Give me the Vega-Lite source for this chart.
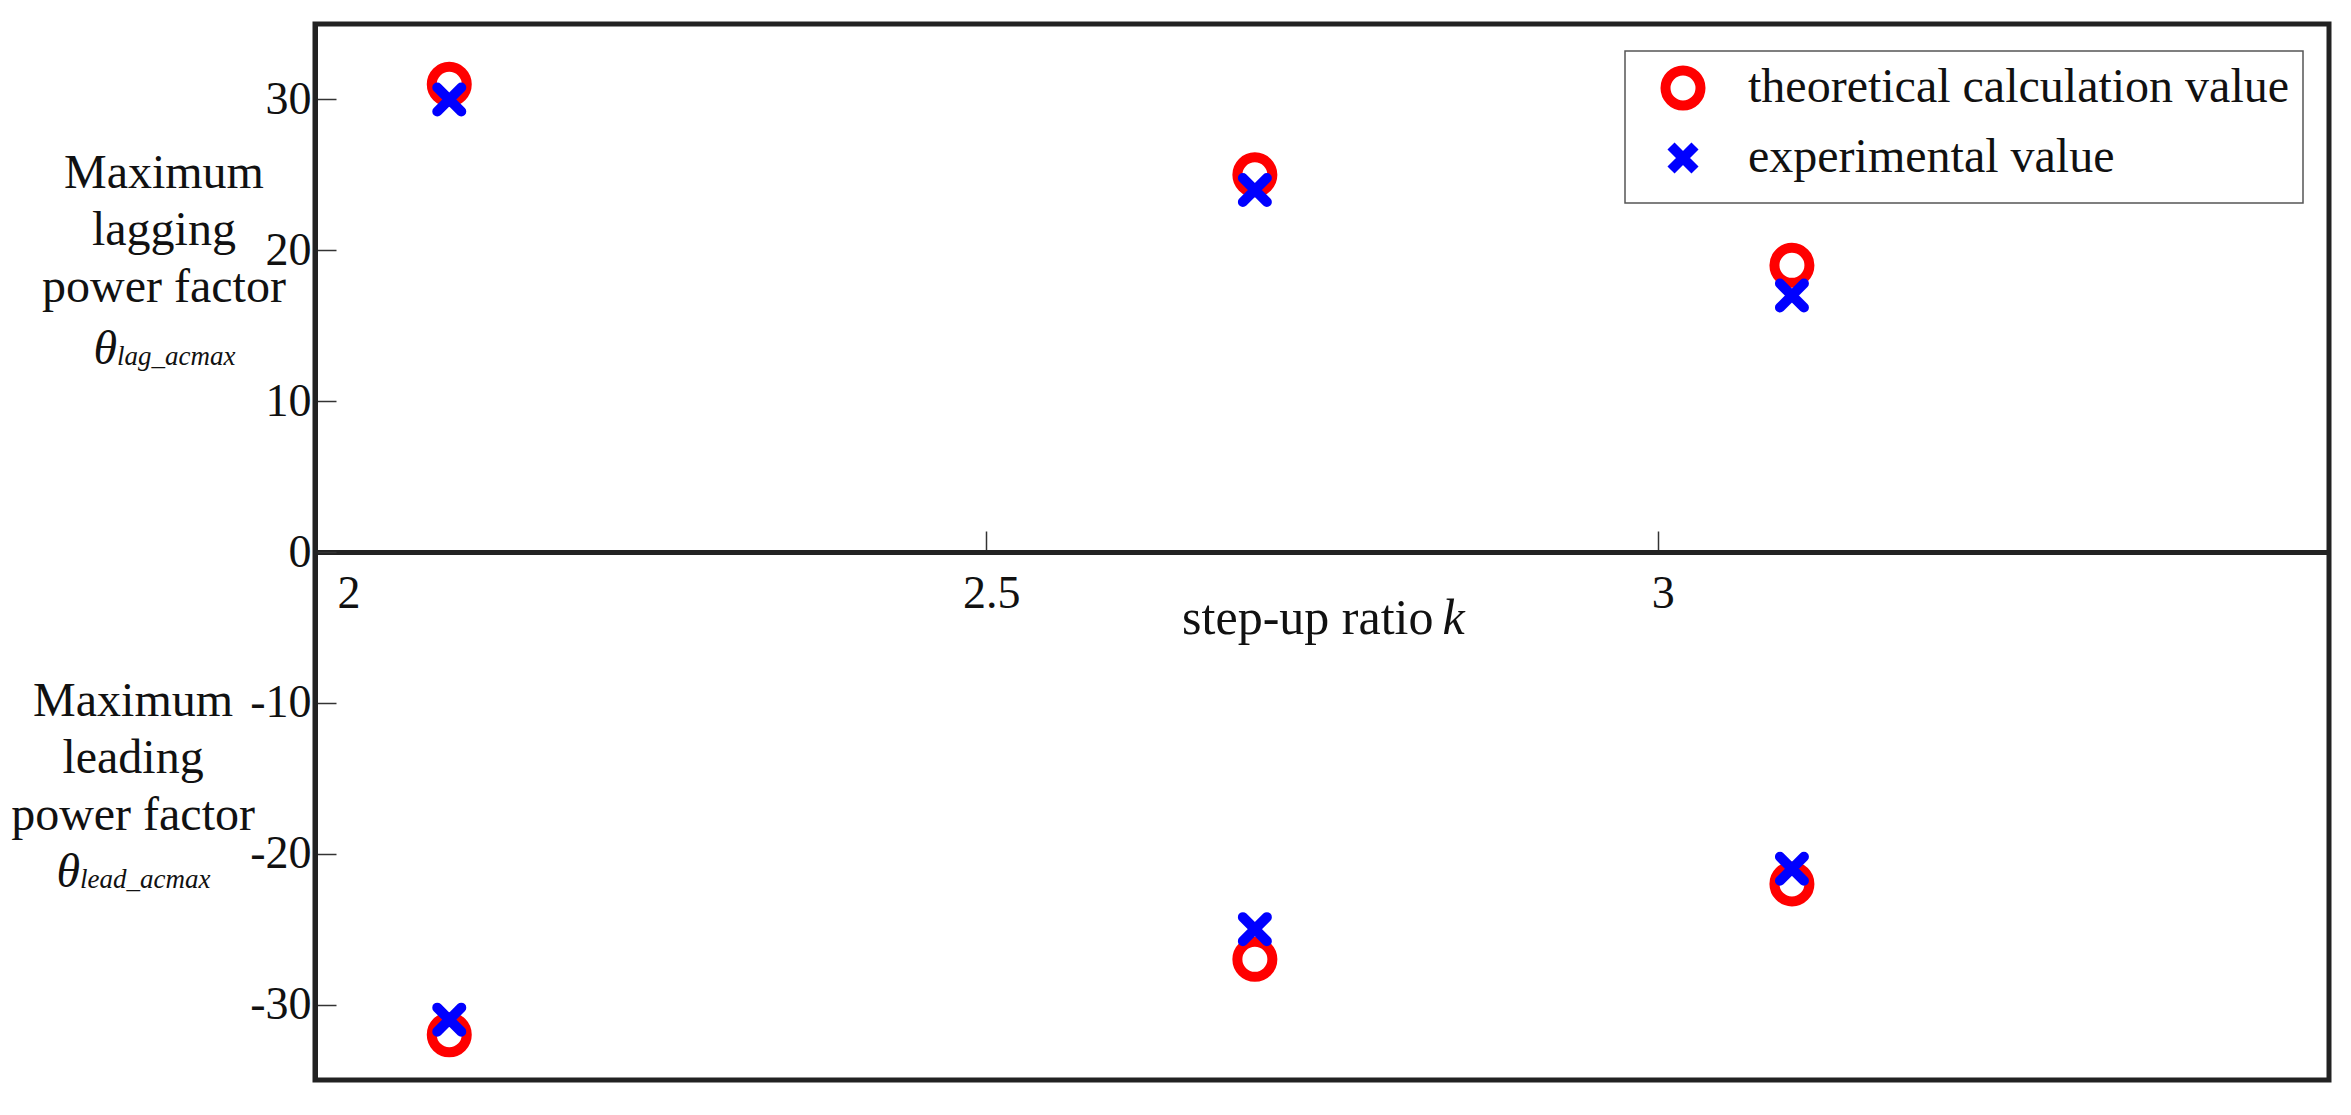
{
  "$schema": "https://vega.github.io/schema/vega-lite/v6.json",
  "width": 2014,
  "height": 1056,
  "autosize": {"type": "none"},
  "padding": {"left": 315, "top": 24, "right": 22, "bottom": 35},
  "background": "white",
  "config": {
    "font": "Liberation Serif",
    "view": {"stroke": "#222", "strokeWidth": 5},
    "text": {"font": "Liberation Serif", "color": "#111"},
    "legend": {
      "strokeColor": "#555", "strokeWidth": 1.5, "fillColor": "white",
      "padding": 13, "symbolOffset": 21, "labelOffset": 41, "rowPadding": 0,
      "labelFont": "Liberation Serif", "labelFontSize": 48, "labelColor": "#111",
      "labelLimit": 2000, "symbolStrokeWidth": 10
    }
  },
  "layer": [
    {
      "data": {"values": [
        {"k": 2.1, "value": 31, "series": "theoretical calculation value"},
        {"k": 2.7, "value": 25, "series": "theoretical calculation value"},
        {"k": 3.1, "value": 19, "series": "theoretical calculation value"},
        {"k": 2.1, "value": -32, "series": "theoretical calculation value"},
        {"k": 2.7, "value": -27, "series": "theoretical calculation value"},
        {"k": 3.1, "value": -22, "series": "theoretical calculation value"},
        {"k": 2.1, "value": 30, "series": "experimental value"},
        {"k": 2.7, "value": 24, "series": "experimental value"},
        {"k": 3.1, "value": 17, "series": "experimental value"},
        {"k": 2.1, "value": -31, "series": "experimental value"},
        {"k": 2.7, "value": -25, "series": "experimental value"},
        {"k": 3.1, "value": -21, "series": "experimental value"}
      ]},
      "mark": {"type": "point", "filled": false, "strokeWidth": 10, "strokeCap": "round", "opacity": 1},
      "encoding": {
        "x": {
          "field": "k", "type": "quantitative",
          "scale": {"domain": [2, 3.5], "nice": false, "zero": false},
          "axis": {
            "orient": "bottom", "offset": -528, "title": null,
            "values": [2, 2.5, 3],
            "domain": true, "domainColor": "#222", "domainWidth": 5,
            "ticks": true, "tickSize": -21, "tickColor": "#333", "tickWidth": 1.5,
            "grid": false,
            "labelFont": "Liberation Serif", "labelFontSize": 46, "labelColor": "#111",
            "labelPadding": 40, "labelFlush": true, "labelFlushOffset": -17, "labelOffset": 5,
            "labelExpr": "'' + datum.value"
          }
        },
        "y": {
          "field": "value", "type": "quantitative",
          "scale": {"domain": [-35, 35], "nice": false, "zero": false},
          "axis": {
            "title": null,
            "values": [-30, -20, -10, 0, 10, 20, 30],
            "domain": true, "domainColor": "#222", "domainWidth": 5,
            "ticks": true, "tickSize": -21, "tickColor": "#333", "tickWidth": 1.5,
            "grid": false,
            "labelFont": "Liberation Serif", "labelFontSize": 46, "labelColor": "#111",
            "labelPadding": 25,
            "labelExpr": "'' + datum.value"
          }
        },
        "color": {
          "field": "series", "type": "nominal",
          "scale": {"domain": ["theoretical calculation value", "experimental value"], "range": ["#ff0000", "#0000ff"]},
          "legend": {"title": null, "orient": "none", "legendX": 1310, "legendY": 27}
        },
        "shape": {
          "field": "series", "type": "nominal",
          "scale": {"domain": ["theoretical calculation value", "experimental value"], "range": ["circle", "M-1,-1L1,1M-1,1L1,-1"]},
          "legend": {"title": null, "orient": "none", "legendX": 1310, "legendY": 27}
        },
        "size": {
          "field": "series", "type": "ordinal",
          "scale": {"domain": ["theoretical calculation value", "experimental value"], "range": [1225, 576]},
          "legend": {"title": null, "orient": "none", "legendX": 1310, "legendY": 27}
        }
      }
    },
    {
      "data": {"values": [{"label": "Maximum\nlagging\npower factor"}]},
      "mark": {"type": "text", "fontSize": 48, "align": "center", "baseline": "alphabetic", "lineBreak": "\n", "lineHeight": 57},
      "encoding": {"x": {"datum": 1.8875}, "y": {"datum": 24.14}, "text": {"field": "label"}}
    },
    {
      "data": {"values": [{"label": "θ"}]},
      "mark": {"type": "text", "fontSize": 48, "fontStyle": "italic", "align": "right", "baseline": "alphabetic"},
      "encoding": {"x": {"datum": 1.8525}, "y": {"datum": 12.47}, "text": {"field": "label"}}
    },
    {
      "data": {"values": [{"label": "lag_acmax"}]},
      "mark": {"type": "text", "fontSize": 27, "fontStyle": "italic", "align": "left", "baseline": "alphabetic"},
      "encoding": {"x": {"datum": 1.8525}, "y": {"datum": 12.4}, "text": {"field": "label"}}
    },
    {
      "data": {"values": [{"label": "Maximum\nleading\npower factor"}]},
      "mark": {"type": "text", "fontSize": 48, "align": "center", "baseline": "alphabetic", "lineBreak": "\n", "lineHeight": 57},
      "encoding": {"x": {"datum": 1.8645}, "y": {"datum": -10.88}, "text": {"field": "label"}}
    },
    {
      "data": {"values": [{"label": "θ"}]},
      "mark": {"type": "text", "fontSize": 48, "fontStyle": "italic", "align": "right", "baseline": "alphabetic"},
      "encoding": {"x": {"datum": 1.825}, "y": {"datum": -22.21}, "text": {"field": "label"}}
    },
    {
      "data": {"values": [{"label": "lead_acmax"}]},
      "mark": {"type": "text", "fontSize": 27, "fontStyle": "italic", "align": "left", "baseline": "alphabetic"},
      "encoding": {"x": {"datum": 1.825}, "y": {"datum": -22.28}, "text": {"field": "label"}}
    },
    {
      "data": {"values": [{"label": "step-up ratio"}]},
      "mark": {"type": "text", "fontSize": 50, "align": "right", "baseline": "alphabetic"},
      "encoding": {"x": {"datum": 2.833}, "y": {"datum": -5.44}, "text": {"field": "label"}}
    },
    {
      "data": {"values": [{"label": "k"}]},
      "mark": {"type": "text", "fontSize": 50, "fontStyle": "italic", "align": "left", "baseline": "alphabetic", "dx": 9},
      "encoding": {"x": {"datum": 2.833}, "y": {"datum": -5.44}, "text": {"field": "label"}}
    }
  ]
}
